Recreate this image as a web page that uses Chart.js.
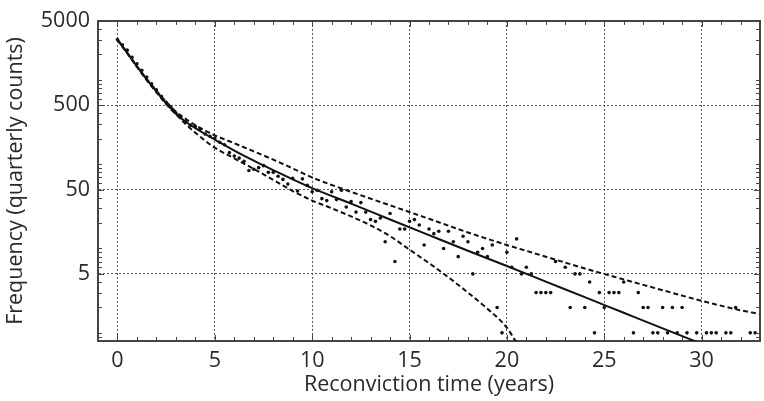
<!DOCTYPE html>
<html>
<head>
<meta charset="utf-8">
<script src="https://cdn.jsdelivr.net/npm/chart.js@4.4.0/dist/chart.umd.min.js"></script>
<style>
	html, body { margin: 0; padding: 0; background: #fff; }
	#wrap { width: 764px; height: 401px; }
</style>
</head>
<body>
<div id="wrap"><canvas id="reconChart" width="764" height="401"></canvas></div>
<script>
// ===== DATA =====
// quarterly observations (years since release)
const quarterTimes = [
	0, 0.25, 0.5, 0.75, 1, 1.25, 1.5, 1.75,
	2, 2.25, 2.5, 2.75, 3, 3.25, 3.5, 3.75,
	4, 4.25, 4.5, 4.75, 5, 5.25, 5.5, 5.75,
	6, 6.25, 6.5, 6.75, 7, 7.25, 7.5, 7.75,
	8, 8.25, 8.5, 8.75, 9, 9.25, 9.5, 9.75,
	10, 10.25, 10.5, 10.75, 11, 11.25, 11.5, 11.75,
	12, 12.25, 12.5, 12.75, 13, 13.25, 13.5, 13.75,
	14, 14.25, 14.5, 14.75, 15, 15.25, 15.5, 15.75,
	16, 16.25, 16.5, 16.75, 17, 17.25, 17.5, 17.75,
	18, 18.25, 18.5, 18.75, 19, 19.25, 19.5, 19.75,
	20, 20.25, 20.5, 20.75, 21, 21.25, 21.5, 21.75,
	22, 22.25, 22.5, 22.75, 23, 23.25, 23.5, 23.75,
	24, 24.25, 24.5, 24.75, 25, 25.25, 25.5, 25.75,
	26, 26.25, 26.5, 26.75, 27, 27.25, 27.5, 27.75,
	28, 28.25, 28.5, 28.75, 29, 29.25, 29.5, 29.75,
	30, 30.25, 30.5, 30.75, 31, 31.25, 31.5, 31.75,
	32, 32.25, 32.5, 32.75
];
const quarterCounts = [
	3000, 2600, 2250, 1850, 1550, 1300, 1080, 900,
	760, 640, 540, 470, 405, 355, 320, 290,
	280, 262, 228, 214, 204, 182, 170, 137,
	125, 118, 108, 84, 87, 91, 96, 80,
	80, 72, 66, 58, 68, 48, 67, 56,
	47, 49, 39, 37, 47, 38, 49, 31,
	36, 27, 35, 27, 22, 21, 23, 12,
	26, 7, 17, 17, 21, 22, 19, 11,
	17, 15, 16, 10, 16, 12, 8, 14,
	12, 5, 9, 10, 8, 11, 2, 1,
	9, 6, 13, 5, 6, 5, 3, 3,
	3, 3, 7, null, 6, 2, 5, 5,
	2, 4, 1, 3, 2, 3, 3, 3,
	4, null, 1, 3, 2, 2, 1, 1,
	2, 1, 2, 1, 2, 1, null, 1,
	null, 1, 1, 1, null, 1, 1, 2,
	null, null, 1, 1
];

// fitted curve
const fitTimes = [0, 0.5, 1, 1.5, 2, 2.5, 3, 3.5, 4, 4.5, 5, 6, 7, 8, 9, 10, 12, 14, 16, 18, 20, 22, 24, 26, 28, 30];
const fitCounts = [3000, 2080, 1440, 1010, 727, 530, 400, 318, 268, 228, 195, 145, 110, 85, 66, 52, 34, 22.1, 14.4, 9.4, 6.2, 4.05, 2.65, 1.73, 1.13, 0.74];

// upper band
const upperTimes = [0, 0.5, 1, 1.5, 2, 2.5, 3, 3.5, 4, 4.5, 5, 6, 7, 8, 9, 10, 12, 14, 16, 18, 20, 22, 24, 26, 28, 30, 32, 33];
const upperCounts = [3000, 2090, 1460, 1030, 745, 550, 420, 345, 290, 250, 220, 177, 142, 113, 89, 69.5, 47, 32.5, 22.5, 15.5, 11, 8.0, 5.8, 4.3, 3.2, 2.4, 1.85, 1.67];

// lower band
const lowerTimes = [0, 0.5, 1, 1.5, 2, 2.5, 3, 3.5, 4, 4.5, 5, 6, 7, 8, 9, 10, 11, 12, 13, 14, 15, 16, 17, 18, 19, 20, 20.5];
const lowerCounts = [3000, 2070, 1420, 990, 710, 515, 390, 300, 236, 190, 157, 117, 88, 65, 48, 37, 30, 24, 18.8, 14, 9.7, 6.7, 4.55, 3.0, 1.93, 1.15, 0.76];

const xTickValues = [0, 5, 10, 15, 20, 25, 30];
const yTickValues = [5, 50, 500, 5000];

const toPoints = (xs, ys) => xs.map((x, i) => ({ x: x, y: ys[i] }));

// ===== FRAME & INNER TICKS =====
const frameTicks = {
	id: 'frameTicks',
	afterDraw(chart) {
		const ctx = chart.ctx;
		const a = chart.chartArea;
		const xs = chart.scales.x;
		const ys = chart.scales.y;
		ctx.save();
		ctx.strokeStyle = '#444';
		ctx.lineWidth = 1;
		ctx.beginPath();
		// x ticks, every year
		for (let v = Math.ceil(xs.min); v <= xs.max; v++) {
			const px = Math.round(xs.getPixelForValue(v)) + 0.5;
			const len = v % 5 === 0 ? 6 : 4;
			ctx.moveTo(px, a.bottom);
			ctx.lineTo(px, a.bottom - len);
			ctx.moveTo(px, a.top);
			ctx.lineTo(px, a.top + len);
		}
		// y ticks, log minor
		for (let e = -1; e <= 3; e++) {
			for (let m = 1; m <= 9; m++) {
				const v = m * Math.pow(10, e);
				if (v < ys.min || v > ys.max) continue;
				const py = Math.round(ys.getPixelForValue(v)) + 0.5;
				const len = m === 5 ? 6 : 4;
				ctx.moveTo(a.left, py);
				ctx.lineTo(a.left + len, py);
				ctx.moveTo(a.right, py);
				ctx.lineTo(a.right - len, py);
			}
		}
		ctx.stroke();
		// top and right edges
		ctx.lineWidth = 2;
		ctx.beginPath();
		ctx.moveTo(a.left, a.top);
		ctx.lineTo(a.right, a.top);
		ctx.lineTo(a.right, a.bottom);
		ctx.stroke();
		ctx.restore();
	}
};

// ===== CHART =====
const ctx = document.getElementById('reconChart').getContext('2d');
const fontSpec = { family: "'Open Sans', sans-serif", size: 21.5 };

new Chart(ctx, {
	type: 'scatter',
	data: {
		datasets: [
			{
				label: 'Observed',
				data: toPoints(quarterTimes, quarterCounts),
				showLine: false,
				pointRadius: 1.8,
				pointBackgroundColor: '#111',
				pointBorderWidth: 0
			},
			{
				label: 'Fitted',
				data: toPoints(fitTimes, fitCounts),
				showLine: true,
				borderColor: '#111',
				borderWidth: 2,
				pointRadius: 0,
				cubicInterpolationMode: 'monotone'
			},
			{
				label: 'Upper',
				data: toPoints(upperTimes, upperCounts),
				showLine: true,
				borderColor: '#111',
				borderWidth: 2,
				borderDash: [5, 3],
				pointRadius: 0,
				cubicInterpolationMode: 'monotone'
			},
			{
				label: 'Lower',
				data: toPoints(lowerTimes, lowerCounts),
				showLine: true,
				borderColor: '#111',
				borderWidth: 2,
				borderDash: [5, 3],
				pointRadius: 0,
				cubicInterpolationMode: 'monotone'
			}
		]
	},
	options: {
		responsive: false,
		devicePixelRatio: 1,
		animation: false,
		layout: { padding: { top: 16, right: 2, left: 0, bottom: 0 } },
		plugins: {
			legend: { display: false },
			tooltip: { enabled: false }
		},
		scales: {
			x: {
				type: 'linear',
				min: -1,
				max: 33,
				afterBuildTicks: (scale) => {
					scale.ticks = xTickValues.map(v => ({ value: v }));
				},
				afterFit: (scale) => { scale.height = 60; },
				grid: { color: '#555', lineWidth: 1, drawTicks: false },
				border: { display: true, color: '#444', width: 2, dash: [2, 2] },
				ticks: { color: '#2a2a2a', font: fontSpec, padding: 7, maxRotation: 0 },
				title: {
					display: true,
					text: 'Reconviction time (years)',
					color: '#2a2a2a',
					font: fontSpec,
					padding: { top: 2, bottom: 3 }
				}
			},
			y: {
				type: 'logarithmic',
				min: 0.8,
				max: 5000,
				afterBuildTicks: (scale) => {
					scale.ticks = yTickValues.map(v => ({ value: v }));
				},
				afterFit: (scale) => { scale.width = 98; },
				grid: { color: '#555', lineWidth: 1, drawTicks: false },
				border: { display: true, color: '#444', width: 2, dash: [2, 2] },
				ticks: {
					color: '#2a2a2a',
					font: fontSpec,
					padding: 8,
					callback: (value) => String(value)
				},
				title: {
					display: true,
					text: 'Frequency (quarterly counts)',
					color: '#2a2a2a',
					font: fontSpec,
					padding: { top: 3, bottom: 2 }
				}
			}
		}
	},
	plugins: [frameTicks]
});
</script>
</body>
</html>
